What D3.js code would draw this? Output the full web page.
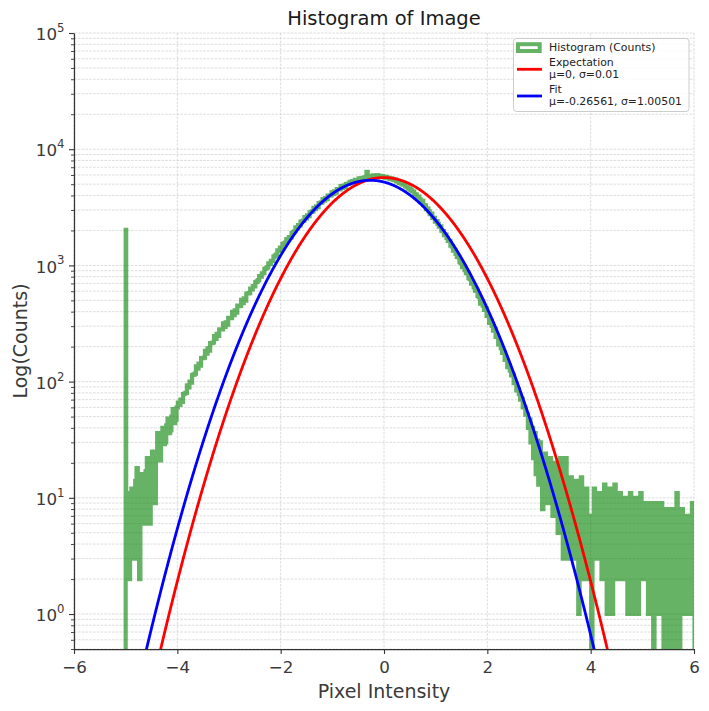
<!DOCTYPE html>
<html><head><meta charset="utf-8">
<script src="https://cdn.jsdelivr.net/npm/d3@7"></script>
<style>
body{margin:0;background:#fff}
svg{display:block}
text{font-family:"DejaVu Sans",sans-serif}
</style>
</head><body>
<svg id="chart" width="709" height="711"></svg>
<script>
// ---------- data ----------
const titleText = "Histogram of Image";
const xLabelText = "Pixel Intensity";
const yLabelText = "Log(Counts)";
const xDomain = [-6, 6];
const yDomain = [0.5, 1e5];
const xTicks = [-6, -4, -2, 0, 2, 4, 6];
const yTickExps = [0, 1, 2, 3, 4, 5];
const legendLabels = [["Histogram (Counts)"], ["Expectation", "\u03bc=0, \u03c3=0.01"], ["Fit", "\u03bc=-0.26561, \u03c3=1.00501"]];

// narrow spike bin at the clipped lower edge
const spikeEdges = [-5.0, -4.99];
const spikeCount = 2020;
// regular bins (width 0.025 starting at -4.99)
const binStart = -4.99;
const binWidth = 0.025;
const leftTailCounts = [
  11,6,2,9,12,4,3,14,18,7,2,12,16,8,6,17,22,11,6,19,
  25,13,9,22,36,26,21,33,40,29,30,42,48,36,38,50,58,44,47,60
];
const bodyCounts = [
  66,63,70,67,78,79,80,93,89,100,98,114,115,117,135,129,143,137,
  159,159,161,184,174,193,185,214,214,217,247,233,258,247,282,281,281,317,296,324,309,353,
  351,352,398,373,411,392,450,447,448,506,473,520,498,573,573,577,
  633,623,664,659,717,729,746,810,799,855,856,933,945,962,1042,1026,1093,1088,1190,1212,
  1238,1346,1335,1426,1413,1532,1547,1568,1686,1650,1751,1738,1894,1924,1964,2126,
  2091,2226,2206,2386,2399,2425,2603,2542,2691,2655,2868,2887,2918,3128,3050,3224,3179,3431,3454,3484,
  3720,3613,3800,3722,3990,3987,4001,4261,4128,4330,4231,4526,4512,4518,4802,4642,4861,4740,
  5013,5032,5059,5239,5175,5313,5262,5449,5445,5449,5613,5511,5631,5555,5737,5717,6400,5872,5757,5871,
  5780,5944,5895,5856,5989,5831,5899,5757,5873,5780,5697,5793,5625,5680,5533,5626,5510,5411,5478,5284,
  5298,5127,5186,5062,4950,4981,4774,4758,4575,4600,4464,4333,4325,4114,4072,3882,
  3903,3711,3542,3589,3307,3291,3044,3084,2913,2767,2790,2567,2564,2380,2411,2276,2158,2172,1988,1971,
  1820,1837,1726,1626,1623,1476,1455,1338,1345,1259,1181,1175,1065,1048,966,972,911,856,854,775,
  761,695,696,648,607,604,547,534,
  469,492,451,415,430,368,368,320,333,301,275,283,242,242,209,216,194,177,180,154,154,133,137,124,
  113,114,97,97,84,86,78,70,71,60,60,52,
  52,40,47,30,40,22,36,16,31,13
];
const rightTailCounts = [
  30,18,8,14,24,12,9,17,22,11,7,15,20,9,5,13,22,8,3,12,
  22,9,3,10,15,6,3,9,14,5,1,7,15,6,2,8,12,5,2,7,
  0,6,12,5,3,7,11,4,2,6,13,5,1,6,12,4,1,5,13,6,
  2,6,11,4,2,5,10,4,1,5,11,3,1,4,10,3,1,5,11,4,
  2,5,9,3,1,4,9,3,0,4,9,3,1,4,9,2,0,3,8,3,
  0,3,8,2,0,4,11,3,0,3,8,2,1,4,7,3,1,4,9,4
];
const expectationParams = [0, 1.0, 5700];        // mu, sigma, amplitude
const fitParams = [-0.26561, 1.00501, 5400];      // mu, sigma, amplitude

const counts = leftTailCounts.concat(bodyCounts, rightTailCounts);

// ---------- layout ----------
const svg = d3.select("#chart");
const L = 74, R = 694, T = 33, B = 649;
const x = d3.scaleLinear().domain(xDomain).range([L, R]);
const y = d3.scaleLog().domain(yDomain).range([B, T]);
const axisColor = "#333333";
const textColor = "#3a3a3a";
const gridColor = "#cfcfcf";

svg.append("rect").attr("width", 709).attr("height", 711).attr("fill", "#fff");
svg.append("defs").append("clipPath").attr("id", "plotclip")
  .append("rect").attr("x", L).attr("y", T).attr("width", R - L).attr("height", B - T);

// ---------- grid ----------
const grid = svg.append("g");
const yGridVals = [];
for (let k = -1; k <= 5; k++) for (let m = 1; m <= 9; m++) {
  const v = m * Math.pow(10, k);
  if (v >= yDomain[0] - 1e-9 && v <= yDomain[1] + 1e-9) yGridVals.push(v);
}
grid.selectAll("line.yg").data(yGridVals).join("line")
  .attr("x1", L).attr("x2", R).attr("y1", d => y(d)).attr("y2", d => y(d))
  .attr("stroke", gridColor).attr("stroke-width", 0.7).attr("stroke-dasharray", "2.6,1.2");
grid.selectAll("line.xg").data(xTicks).join("line")
  .attr("x1", d => x(d)).attr("x2", d => x(d)).attr("y1", T).attr("y2", B)
  .attr("stroke", gridColor).attr("stroke-width", 0.7).attr("stroke-dasharray", "2.6,1.2");

// ---------- histogram (step outline) ----------
const yv = c => c > 0 ? y(c) : B + 30;
const pts = [];
pts.push([x(spikeEdges[0]), B + 30]);
pts.push([x(spikeEdges[0]), yv(spikeCount)]);
pts.push([x(spikeEdges[1]), yv(spikeCount)]);
counts.forEach((c, i) => {
  const x0 = binStart + i * binWidth, x1 = x0 + binWidth;
  pts.push([x(x0), yv(c)]);
  pts.push([x(x1), yv(c)]);
});
pts.push([x(binStart + counts.length * binWidth), B + 30]);

const plot = svg.append("g").attr("clip-path", "url(#plotclip)");
plot.append("path").attr("d", d3.line()(pts))
  .attr("fill", "none").attr("stroke", "green").attr("stroke-opacity", 0.6)
  .attr("stroke-width", 4.2).attr("stroke-linejoin", "miter").attr("stroke-miterlimit", 2);

// ---------- gaussian curves ----------
const xs = d3.range(-6, 6.0001, 0.005);
function gauss(p) {
  return xs.map(v => [x(v), y(Math.max(1e-6, p[2] * Math.exp(-((v - p[0]) ** 2) / (2 * p[1] * p[1]))))]);
}
plot.append("path").attr("d", d3.line()(gauss(expectationParams)))
  .attr("fill", "none").attr("stroke", "red").attr("stroke-width", 2.8);
plot.append("path").attr("d", d3.line()(gauss(fitParams)))
  .attr("fill", "none").attr("stroke", "blue").attr("stroke-width", 2.8);

// ---------- axes ----------
const fmtX = d => (d < 0 ? "\u2212" + Math.abs(d) : String(d));
const gx = svg.append("g").attr("transform", `translate(0,${B})`)
  .call(d3.axisBottom(x).tickValues(xTicks).tickFormat(fmtX).tickSize(5).tickSizeOuter(0).tickPadding(4));
gx.select(".domain").attr("stroke", axisColor).attr("stroke-width", 1.25);
gx.selectAll(".tick line").attr("stroke", axisColor).attr("stroke-width", 1.1);
gx.selectAll(".tick text").attr("fill", textColor).attr("font-size", 16.7)
  .attr("font-family", "DejaVu Sans").attr("dy", null).attr("y", 24);

const majorY = yTickExps.map(e => Math.pow(10, e));
const minorY = yGridVals.filter(v => !majorY.some(m => Math.abs(m - v) < 1e-9));
const gyMinor = svg.append("g").attr("transform", `translate(${L},0)`)
  .call(d3.axisLeft(y).tickValues(minorY).tickFormat("").tickSize(3).tickSizeOuter(0));
gyMinor.select(".domain").remove();
gyMinor.selectAll(".tick line").attr("stroke", axisColor).attr("stroke-width", 0.9);

const gy = svg.append("g").attr("transform", `translate(${L},0)`)
  .call(d3.axisLeft(y).tickValues(majorY).tickFormat("").tickSize(5).tickSizeOuter(0));
gy.select(".domain").attr("stroke", axisColor).attr("stroke-width", 1.25);
gy.selectAll(".tick line").attr("stroke", axisColor).attr("stroke-width", 1.1);
gy.selectAll(".tick").each(function(d, i) {
  const t = d3.select(this).append("text")
    .attr("x", -9.5).attr("y", 6.7).attr("text-anchor", "end")
    .attr("fill", textColor).attr("font-size", 16.7).attr("font-family", "DejaVu Sans");
  t.append("tspan").text("10");
  t.append("tspan").attr("dy", -8.3).attr("font-size", 11.7).text(String(yTickExps[i]));
});

// ---------- titles ----------
svg.append("text").attr("x", (L + R) / 2).attr("y", 25).attr("text-anchor", "middle")
  .attr("font-size", 19.5).attr("fill", "#1a1a1a").text(titleText);
svg.append("text").attr("x", (L + R) / 2).attr("y", 698).attr("text-anchor", "middle")
  .attr("font-size", 19).attr("fill", textColor).text(xLabelText);
svg.append("text").attr("transform", `translate(27,${(T + B) / 2}) rotate(-90)`)
  .attr("text-anchor", "middle").attr("font-size", 19).attr("fill", textColor).text(yLabelText);

// ---------- legend ----------
const lg = svg.append("g");
lg.append("rect").attr("x", 513.5).attr("y", 38.5).attr("width", 175.5).attr("height", 73)
  .attr("rx", 3).attr("fill", "#fff").attr("fill-opacity", 0.8).attr("stroke", "#cccccc").attr("stroke-width", 1);
lg.append("rect").attr("x", 518).attr("y", 44.2).attr("width", 21.7).attr("height", 6.8)
  .attr("fill", "none").attr("stroke", "green").attr("stroke-opacity", 0.6).attr("stroke-width", 4);
lg.append("line").attr("x1", 517).attr("x2", 542).attr("y1", 69.3).attr("y2", 69.3)
  .attr("stroke", "red").attr("stroke-width", 2.8);
lg.append("line").attr("x1", 517).attr("x2", 542).attr("y1", 96).attr("y2", 96)
  .attr("stroke", "blue").attr("stroke-width", 2.8);
const legendBaselines = [[50.8], [66, 78.3], [92.8, 105.1]];
legendLabels.forEach((lines, i) => {
  lines.forEach((s, j) => {
    lg.append("text").attr("x", 549).attr("y", legendBaselines[i][j])
      .attr("font-size", 10.9).attr("fill", "#222").text(s);
  });
});
</script>
</body></html>
